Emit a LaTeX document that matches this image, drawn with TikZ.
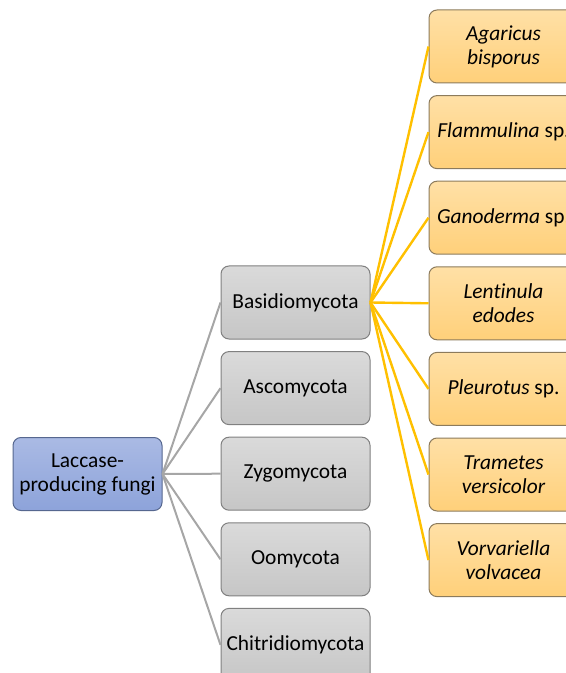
\documentclass[tikz,border=0pt]{standalone}
\usepackage{fontspec}
\setmainfont{Carlito}[Ligatures=NoCommon]
\usetikzlibrary{positioning}

\definecolor{rootTop}{HTML}{AABAE4}
\definecolor{rootBot}{HTML}{8DA3DA}
\definecolor{rootLine}{HTML}{56678F}
\definecolor{phyTop}{HTML}{DADADA}
\definecolor{phyBot}{HTML}{C6C6C6}
\definecolor{phyLine}{HTML}{808080}
\definecolor{genTop}{HTML}{FFE0A6}
\definecolor{genBot}{HTML}{FFD07A}
\definecolor{genLine}{HTML}{8C7B5C}
\definecolor{grayLink}{HTML}{A6A6A6}
\definecolor{goldLink}{HTML}{FFC000}

\begin{document}
\begin{tikzpicture}[x=0.5pt, y=-0.5pt, node distance=5.8pt,
                    font=\fontsize{10.7}{12}\selectfont,
                    box/.style={rounded corners=4pt, minimum width=74.5pt,
                                minimum height=36.5pt, align=center,
                                line width=0.5pt, inner sep=1pt},
                    rootbox/.style={box, draw=rootLine, top color=rootTop, bottom color=rootBot},
                    phylumbox/.style={box, draw=phyLine, top color=phyTop, bottom color=phyBot},
                    genusbox/.style={box, draw=genLine, top color=genTop, bottom color=genBot},
                    graylink/.style={draw=grayLink, line width=1pt},
                    goldlink/.style={draw=goldLink, line width=1.2pt}]

\path[use as bounding box, clip] (0,0) rectangle (566,673);

\node[rootbox] (fungi) at (87.5,474) {Laccase-\\producing fungi};

% phyla
\node[phylumbox] (basidio) at (295.5,302.5) {Basidiomycota};
\node[phylumbox, below=of basidio] (asco) {Ascomycota};
\node[phylumbox, below=of asco] (zygo) {Zygomycota};
\node[phylumbox, below=of zygo] (oomy) {Oomycota};
\node[phylumbox, below=of oomy] (chitri) {Chitridiomycota};

% genera
\node[genusbox] (agaricus) at (503.5,46.5) {\itshape Agaricus\\\itshape bisporus};
\node[genusbox, below=of agaricus] (flammulina) {\textit{Flammulina} sp.};
\node[genusbox, below=of flammulina] (ganoderma) {\textit{Ganoderma} sp.};
\node[genusbox, below=of ganoderma] (lentinula) {\itshape Lentinula\\\itshape edodes};
\node[genusbox, below=of lentinula] (pleurotus) {\textit{Pleurotus} sp.};
\node[genusbox, below=of pleurotus] (trametes) {\itshape Trametes\\\itshape versicolor};
\node[genusbox, below=of trametes] (vorvariella) {\itshape Vorvariella\\\itshape volvacea};

\path[graylink]
(fungi.east) edge (basidio.west)
(fungi.east) edge (asco.west)
(fungi.east) edge (zygo.west)
(fungi.east) edge (oomy.west)
(fungi.east) edge (chitri.west);

\path[goldlink]
(basidio.east) edge (agaricus.west)
(basidio.east) edge (flammulina.west)
(basidio.east) edge (ganoderma.west)
(basidio.east) edge (lentinula.west)
(basidio.east) edge (pleurotus.west)
(basidio.east) edge (trametes.west)
(basidio.east) edge (vorvariella.west);
\end{tikzpicture}
\end{document}
